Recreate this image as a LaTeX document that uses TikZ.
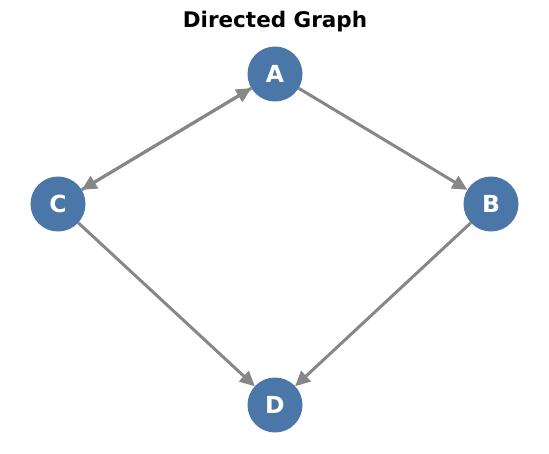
\documentclass[tikz,border=0pt]{standalone}
\usepackage{fontspec}
\setmainfont{DejaVu Sans}
\usetikzlibrary{arrows.meta}
\definecolor{nodeblue}{HTML}{4A76A8}
\definecolor{edgegray}{HTML}{878787}
\tikzset{
  vertex/.style={circle, fill=nodeblue, minimum size=55pt, inner sep=0pt, outer sep=0pt, text=white, font=\fontsize{23.5}{24}\selectfont\bfseries},
  edge/.style={draw=edgegray, line width=3pt, -{Triangle[length=15pt,width=14pt]}},
}
\begin{document}
\begin{tikzpicture}[x=1pt,y=-1pt]
\useasboundingbox (0,0) rectangle (549,453);
\node[font=\fontsize{21.5}{22}\selectfont\bfseries] (title) at (275,22) {Directed Graph};
\node[vertex] (A) at (275,74) {A};
\node[vertex] (B) at (491,204) {B};
\node[vertex] (C) at (58,204) {C};
\node[vertex] (D) at (275,405) {D};
\draw[edge] (A) -- (B);
\draw[edge] (A) -- (C);
\draw[edge] (C) -- (A);
\draw[edge] (C) -- (D);
\draw[edge] (B) -- (D);
\end{tikzpicture}
\end{document}
